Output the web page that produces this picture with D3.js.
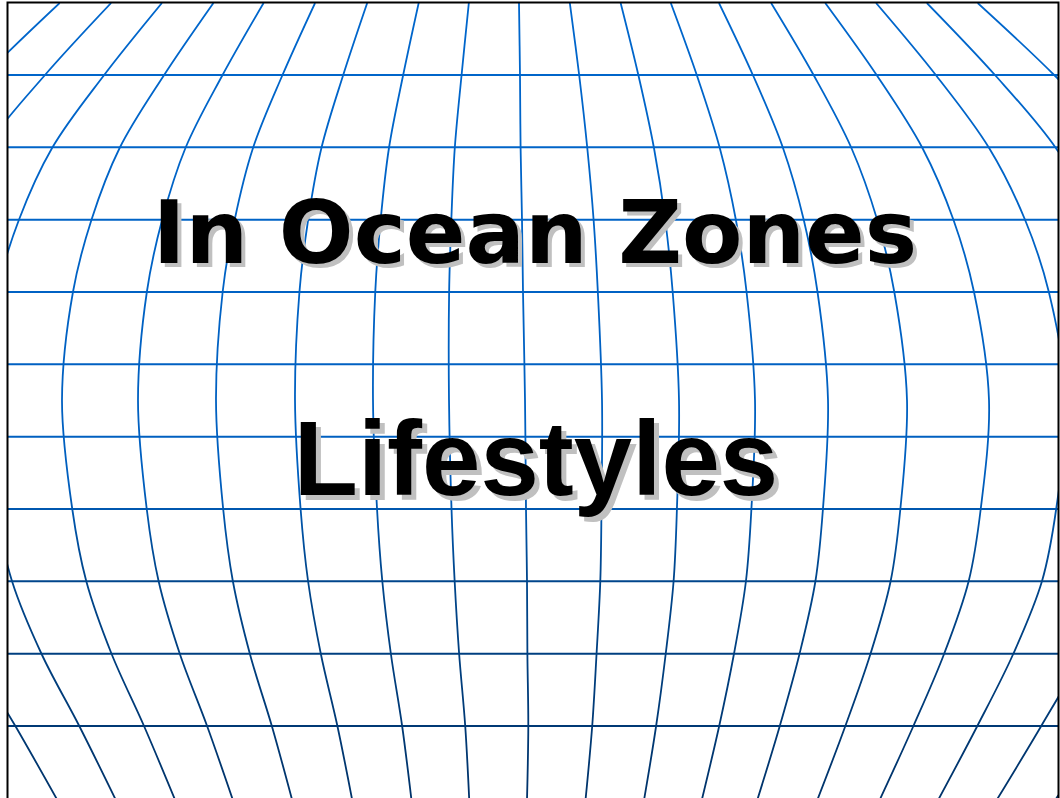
<!DOCTYPE html>
<html>
<head>
<meta charset="utf-8">
<script src="https://cdn.jsdelivr.net/npm/d3@7"></script>
<style>
  body { margin: 0; background: #fff; }
  svg { display: block; }
</style>
</head>
<body>
<div id="slide"></div>
<script>
// size of the page
var width = 1060
var height = 798

// horizontal grid rows (index of each straight line, 0 = top frame)
var rowIndex = [1, 2, 3, 4, 5, 6, 7, 8, 9, 10]

// x of every curved line where it is widest (y ~ 400)
var meridianMidX = [-171, -93, -16, 62, 138, 216, 295, 373, 449, 525,
                    602, 679, 755, 828, 907, 989, 1066, 1143, 1220]

// how the curved lines pull in toward the top and bottom
var profileY      = [3,    76,   148,   220,  292,   400,  509,  581,   654,   726,   800]
var profileSpread = [0.66, 0.77, 0.866, 0.93, 0.972, 1,    0.98, 0.952, 0.898, 0.83,  0.76]
var profileCenter = [519,  520,  520.6, 522,  523,   525,  526,  527,   527.4, 528.3, 527]

var titles = ["In Ocean Zones", "Lifestyles"]

var svg = d3.select("#slide")
  .append("svg")
    .attr("width", width)
    .attr("height", height)

var defs = svg.append("defs")

var grad = defs.append("linearGradient")
  .attr("id", "gridcol")
  .attr("gradientUnits", "userSpaceOnUse")
  .attr("x1", 0).attr("y1", 0)
  .attr("x2", 0).attr("y2", height)
grad.selectAll("stop")
  .data([[0, "#0066cc"], [0.6, "#005fbf"], [0.72, "#00468c"], [1, "#00336a"]])
  .enter().append("stop")
    .attr("offset", d => d[0])
    .attr("stop-color", d => d[1])

defs.append("clipPath").attr("id", "frame")
  .append("rect")
    .attr("x", 8).attr("y", 3)
    .attr("width", 1050).attr("height", height)

var y = d3.scaleLinear()
  .domain([0, 11])
  .range([2.7, 798.3])

var x = d3.scaleLinear()
  .domain([0, width])
  .range([0, width])

var grid = svg.append("g")
  .attr("clip-path", "url(#frame)")
  .attr("stroke", "url(#gridcol)")
  .attr("fill", "none")

grid.selectAll("line.row")
  .data(rowIndex)
  .enter().append("line")
    .attr("class", "row")
    .attr("x1", 0)
    .attr("x2", width)
    .attr("y1", d => y(d))
    .attr("y2", d => y(d))
    .attr("stroke-width", 2)

var curve = d3.line()
  .x(d => x(d[0]))
  .y(d => d[1])
  .curve(d3.curveCatmullRom.alpha(0.5))

grid.selectAll("path.meridian")
  .data(meridianMidX)
  .enter().append("path")
    .attr("class", "meridian")
    .attr("stroke-width", 1.8)
    .attr("d", mid => curve(profileY.map((py, i) =>
      [profileCenter[i] + (mid - profileCenter[5]) * profileSpread[i], py])))

// frame
svg.append("path")
  .attr("d", "M7.5,804 L7.5,2.5 L1058.5,2.5 L1058.5,804")
  .attr("fill", "none")
  .attr("stroke", "#000")
  .attr("stroke-width", 2)

// titles with drop shadow
var textSpec = [
  {t: titles[0], x: 535, y: 263, size: 88, font: "'DejaVu Sans', Verdana, sans-serif", off: 4},
  {t: titles[1], x: 536, y: 495, size: 105, font: "'Liberation Sans', Arial, sans-serif", off: 5}
]

var txt = svg.append("g")
txt.selectAll("text.shadow")
  .data(textSpec)
  .enter().append("text")
    .attr("class", "shadow")
    .attr("x", d => d.x + d.off)
    .attr("y", d => d.y + d.off)
    .attr("text-anchor", "middle")
    .style("font-family", d => d.font)
    .style("font-weight", "bold")
    .style("font-size", d => d.size + "px")
    .attr("fill", "#c0c0c0")
    .text(d => d.t)

txt.selectAll("text.main")
  .data(textSpec)
  .enter().append("text")
    .attr("class", "main")
    .attr("x", d => d.x)
    .attr("y", d => d.y)
    .attr("text-anchor", "middle")
    .style("font-family", d => d.font)
    .style("font-weight", "bold")
    .style("font-size", d => d.size + "px")
    .attr("fill", "#000")
    .text(d => d.t)
</script>
</body>
</html>
